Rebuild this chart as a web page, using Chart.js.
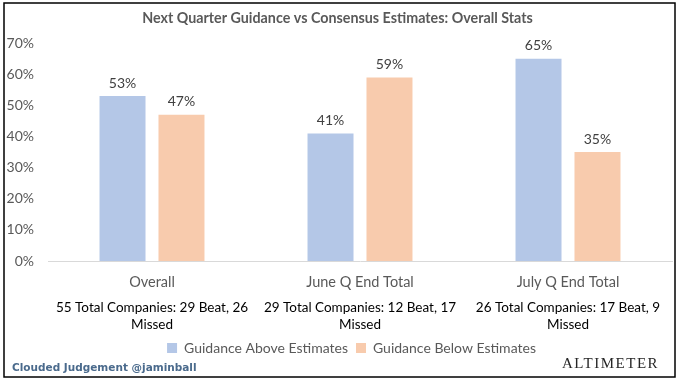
<!DOCTYPE html>
<html>
<head>
<meta charset="utf-8">
<script src="https://cdn.jsdelivr.net/npm/chart.js@4.4.1/dist/chart.umd.min.js"></script>
<style>
  html, body { margin: 0; padding: 0; background: #fff; }
  #wrap { width: 679px; height: 384px; position: relative; }
</style>
</head>
<body>
<div id="wrap"><canvas id="c"></canvas></div>
<script>
const categories = ["Overall", "June Q End Total", "July Q End Total"];
const subLabels = [
  ["55 Total Companies: 29 Beat, 26", "Missed"],
  ["29 Total Companies: 12 Beat, 17", "Missed"],
  ["26 Total Companies: 17 Beat, 9", "Missed"]
];
const seriesNames = ["Guidance Above Estimates", "Guidance Below Estimates"];
const aboveValues = [53, 41, 65];
const belowValues = [47, 59, 35];
const titleText = "Next Quarter Guidance vs Consensus Estimates: Overall Stats";
const footerLeft = "Clouded Judgement @jaminball";
const footerRight = "ALTIMETER";

const FONT = "Lato, 'Open Sans', sans-serif";

const valueLabels = {
  id: 'valueLabels',
  afterDatasetsDraw(chart) {
    const ctx = chart.ctx;
    ctx.save();
    ctx.font = "14px " + FONT;
    ctx.fillStyle = "#404040";
    ctx.textAlign = "center";
    ctx.textBaseline = "middle";
    chart.data.datasets.forEach((ds, di) => {
      const meta = chart.getDatasetMeta(di);
      meta.data.forEach((bar, i) => {
        ctx.fillText(ds.data[i] + "%", bar.x, bar.y - 13);
      });
    });
    ctx.restore();
  }
};

const legendShift = {
  id: 'legendShift',
  afterLayout(chart) {
    if (chart.legend) { chart.legend.left += 14; chart.legend.right += 14; }
  }
};

const frame = {
  id: 'frame',
  afterDraw(chart) {
    const ctx = chart.ctx;
    ctx.save();
    ctx.strokeStyle = "#000";
    ctx.lineWidth = 1.5;
    ctx.strokeRect(4, 3, 671, 374);
    ctx.font = "bold 10.5px 'DejaVu Sans', sans-serif";
    ctx.fillStyle = "#4A6A8C";
    ctx.textAlign = "left";
    ctx.textBaseline = "middle";
    ctx.fillText(footerLeft, 12, 368);
    ctx.font = "15px 'Liberation Serif', serif";
    ctx.letterSpacing = "1.5px";
    ctx.fillStyle = "#262626";
    ctx.textAlign = "left";
    ctx.textBaseline = "alphabetic";
    ctx.fillText(footerRight, 562, 368);
    ctx.restore();
  }
};

new Chart(document.getElementById('c'), {
  type: 'bar',
  data: {
    labels: categories,
    datasets: [
      { label: seriesNames[0], data: aboveValues, backgroundColor: "#B4C7E7",
        categoryPercentage: 0.567, barPercentage: 0.78 },
      { label: seriesNames[1], data: belowValues, backgroundColor: "#F8CBAD",
        categoryPercentage: 0.567, barPercentage: 0.78 }
    ]
  },
  options: {
    responsive: true,
    maintainAspectRatio: false,
    animation: false,
    layout: { padding: { left: 3, right: 7, top: 0, bottom: 19 } },
    plugins: {
      title: {
        display: true, text: titleText, color: "#595959",
        font: { family: FONT, size: 14.3, weight: 'bold' },
        padding: { top: 10, bottom: 16 }
      },
      legend: {
        position: 'bottom',
        labels: {
          color: "#595959", font: { family: FONT, size: 14 },
          boxWidth: 10, boxHeight: 10, padding: 8
        }
      },
      tooltip: { enabled: false }
    },
    scales: {
      y: {
        min: 0, max: 70,
        ticks: { stepSize: 10, color: "#595959", font: { family: FONT, size: 14 },
                 callback: v => v + "%", padding: 14 },
        grid: { display: false, drawTicks: false },
        border: { display: false },
        afterFit(s) { s.width = 45; }
      },
      x: {
        grid: { display: false, drawTicks: false },
        border: { display: true, color: "#D9D9D9", width: 1 },
        ticks: { color: "#595959", font: { family: FONT, size: 14.5 }, padding: 13,
                 maxRotation: 0, minRotation: 0, autoSkip: false },
        afterFit(s) { s.height = 29; s.paddingLeft = 0; s.paddingRight = 0; }
      },
      x2: {
        type: 'category',
        labels: subLabels,
        position: 'bottom',
        grid: { display: false, drawTicks: false },
        border: { display: false },
        ticks: { color: "#000", font: { family: FONT, size: 13.5, lineHeight: 1.26 }, padding: 9,
                 maxRotation: 0, minRotation: 0, autoSkip: false },
        afterFit(s) { s.height = 43; s.paddingLeft = 0; s.paddingRight = 0; }
      }
    }
  },
  plugins: [valueLabels, legendShift, frame]
});
</script>
</body>
</html>
